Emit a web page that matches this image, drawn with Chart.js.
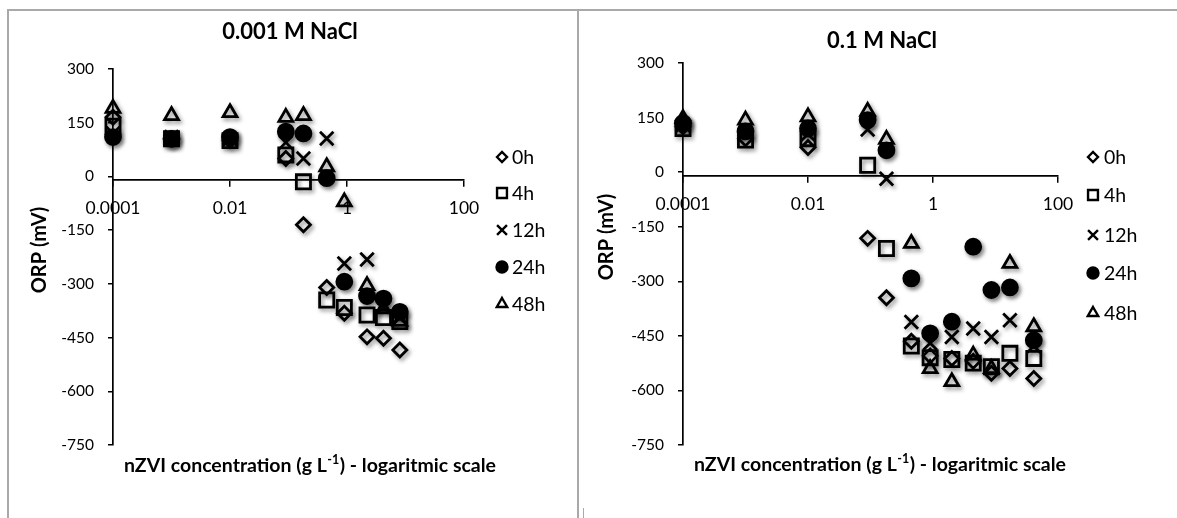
<!DOCTYPE html>
<html><head><meta charset="utf-8">
<script src="https://cdn.jsdelivr.net/npm/chart.js@4.4.1/dist/chart.umd.min.js"></script>
<style>
html,body{margin:0;padding:0;background:#fff;}
#wrap{position:relative;width:1177px;height:518px;overflow:hidden;background:#fff;}
canvas{position:absolute;top:0;}
.ln{position:absolute;background:#a9a9a9;}
</style></head><body>
<div id="wrap">
  <div class="ln" style="left:7px;top:9px;width:1170px;height:2px;"></div>
  <div class="ln" style="left:7px;top:9px;width:2px;height:520px;"></div>
  <div class="ln" style="left:577px;top:9px;width:2px;height:520px;"></div>
  <div class="ln" style="left:583px;top:508px;width:1px;height:10px;"></div>
  <canvas id="c1" width="576" height="518" style="left:0"></canvas>
  <canvas id="c2" width="597" height="518" style="left:580px"></canvas>
</div>
<script>
// ---------- data ----------
const seriesNames = ['0h', '4h', '12h', '24h', '48h'];

// Panel 1: 0.001 M NaCl
const conc1 = [0.0001, 0.001, 0.01, 0.09, 0.18, 0.45, 0.9, 2.2, 4.2, 8];
const orp1_0h  = [165, 105, 100, 50, -135, -310, -382, -448, -452, -485];
const orp1_4h  = [140, 105, 100, 60, -15, -345, -366, -387, -394, -405];
const orp1_12h = [120, 110, 105, 95, 50, 106, -243, -232, -365, -395];
const orp1_24h = [110, 105, 110, 125, 120, -5, -294, -334, -341, -378];
const orp1_48h = [190, 170, 178, 165, 170, 27, -71, -305, -370, -405];

// Panel 2: 0.1 M NaCl
const conc2 = [0.0001, 0.001, 0.01, 0.09, 0.18, 0.45, 0.9, 2.0, 4.4, 8.6, 17, 41];
const orp2_0h  = [125, 92, 68, -182, -345, -465, -505, -512, -520, -553, -540, -567];
const orp2_4h  = [120, 88, 92, 19, -210, -478, -510, -515, -525, -535, -498, -512];
const orp2_12h = [130, 110, 105, 117, -18, -412, -470, -453, -430, -453, -407, -478];
const orp2_24h = [135, 112, 120, 143, 60, -292, -443, -411, -205, -324, -317, -462];
const orp2_48h = [147, 143, 152, 167, 90, -196, -540, -576, -503, -540, -251, -425];

const xTickValues = [0.0001, 0.01, 1, 100];
const xTickLabels = ['0.0001', '0.01', '1', '100'];
const yMin = -750, yMax = 300, yStep = 150;

const panelTitles = ['0.001 M NaCl', '0.1 M NaCl'];
const yTitle = 'ORP (mV)';
const xTitleParts = ['nZVI concentration (g L', '-1', ') - logaritmic scale'];

// ---------- styles ----------
const FONT = 'Lato';
const markerStyles = [
  {pointStyle: 'rectRot', radius: 7, fill: 'rgba(0,0,0,0)', legendRadius: 5},
  {pointStyle: 'rect', radius: 10, fill: 'rgba(0,0,0,0)', legendRadius: 7},
  {pointStyle: 'crossRot', radius: 9.5, fill: 'rgba(0,0,0,0)', legendRadius: 7},
  {pointStyle: 'circle', radius: 7.5, fill: '#000', legendRadius: 5.5},
  {pointStyle: 'triangle', radius: 8, fill: 'rgba(0,0,0,0)', legendRadius: 6}
];

const shadowPlugin = {
  id: 'markerShadow',
  beforeDatasetsDraw(chart) {
    const ctx = chart.ctx;
    ctx.save();
    ctx.shadowColor = 'rgba(0,0,0,0.45)';
    ctx.shadowBlur = 4;
    ctx.shadowOffsetX = 2;
    ctx.shadowOffsetY = 2.5;
  },
  afterDatasetsDraw(chart) { chart.ctx.restore(); }
};

const textPlugin = {
  id: 'panelText',
  afterDraw(chart, args, o) {
    const ctx = chart.ctx;
    ctx.save();
    ctx.fillStyle = '#000';
    ctx.textBaseline = 'middle';
    // title
    ctx.textAlign = 'center';
    ctx.font = 'bold 22px ' + FONT;
    ctx.fillText(o.title, o.titleX, o.titleY);
    // y title
    ctx.save();
    ctx.translate(o.yTitleX, o.yTitleY);
    ctx.rotate(-Math.PI / 2);
    ctx.font = 'bold 20px ' + FONT;
    ctx.fillText(yTitle, 0, 0);
    ctx.restore();
    // x title with superscript
    const mainF = 'bold 19.5px ' + FONT, supF = 'bold 12.5px ' + FONT;
    ctx.textAlign = 'left';
    ctx.textBaseline = 'alphabetic';
    ctx.font = mainF; const w0 = ctx.measureText(xTitleParts[0]).width;
    const w2 = ctx.measureText(xTitleParts[2]).width;
    ctx.font = supF; const w1 = ctx.measureText(xTitleParts[1]).width;
    let x = o.xTitleX - (w0 + w1 + w2 + 1) / 2;
    const base = o.xTitleY + 7;
    ctx.font = mainF; ctx.fillText(xTitleParts[0], x, base); x += w0 + 0.5;
    ctx.font = supF; ctx.fillText(xTitleParts[1], x, base - 8); x += w1 + 0.5;
    ctx.font = mainF; ctx.fillText(xTitleParts[2], x, base);
    // legend
    ctx.textBaseline = 'middle';
    ctx.font = '19.5px ' + FONT;
    markerStyles.forEach((m, i) => {
      const y = o.legendY[i];
      ctx.save();
      ctx.strokeStyle = '#000';
      ctx.fillStyle = m.fill;
      ctx.lineWidth = 2.4;
      Chart.helpers.drawPoint(ctx, {pointStyle: m.pointStyle, radius: m.legendRadius, rotation: 0, borderWidth: 2.4}, o.legendX, y);
      ctx.restore();
      ctx.fillStyle = '#000';
      ctx.fillText(seriesNames[i], o.legendTextX, y + 1);
    });
    ctx.restore();
  }
};

function makeChart(id, xs, seriesList, area, text) {
  const canvas = document.getElementById(id);
  const W = canvas.width, H = canvas.height;
  const yAxisWidth = 70;
  const datasets = seriesList.map((ys, i) => ({
    label: seriesNames[i],
    data: xs.map((x, j) => ({x: x, y: ys[j]})),
    pointStyle: markerStyles[i].pointStyle,
    pointRadius: markerStyles[i].radius,
    pointHoverRadius: markerStyles[i].radius,
    borderColor: '#000',
    backgroundColor: markerStyles[i].fill,
    borderWidth: 2.8,
    pointBorderWidth: 2.8,
    showLine: false,
    clip: false,
    order: seriesList.length - i
  }));
  return new Chart(canvas, {
    type: 'scatter',
    data: {datasets},
    options: {
      responsive: false,
      animation: false,
      devicePixelRatio: 1,
      events: [],
      layout: {padding: {left: area.left - yAxisWidth, right: W - area.right, top: area.top, bottom: H - area.bottom}},
      plugins: {legend: {display: false}, tooltip: {enabled: false}, panelText: text},
      scales: {
        x: {
          type: 'logarithmic',
          min: xTickValues[0], max: xTickValues[xTickValues.length - 1],
          position: {y: -10},
          afterBuildTicks: s => { s.ticks = xTickValues.map(v => ({value: v})); },
          ticks: {
            autoSkip: false, maxRotation: 0, padding: 12, color: '#000',
            font: {family: FONT, size: 17.5},
            callback: v => { const k = xTickValues.indexOf(v); return k >= 0 ? xTickLabels[k] : ''; }
          },
          grid: {drawOnChartArea: false, drawTicks: true, tickLength: 6, color: '#000', lineWidth: 1.5},
          border: {display: true, color: '#000', width: 1.7}
        },
        y: {
          type: 'linear', min: yMin, max: yMax,
          ticks: {stepSize: yStep, padding: 14, color: '#000', font: {family: FONT, size: 15.5}},
          grid: {drawOnChartArea: false, drawTicks: true, tickLength: 5, color: '#000', lineWidth: 1.5},
          border: {display: true, color: '#000', width: 1.7},
          afterFit: s => { s.width = yAxisWidth; }
        }
      }
    },
    plugins: [shadowPlugin, textPlugin]
  });
}

makeChart('c1', conc1, [orp1_0h, orp1_4h, orp1_12h, orp1_24h, orp1_48h],
  {left: 113, right: 464, top: 69, bottom: 445},
  {title: panelTitles[0], titleX: 290, titleY: 32, yTitleX: 40, yTitleY: 250, xTitleX: 310, xTitleY: 465,
   legendX: 502, legendTextX: 512, legendY: [157, 193, 230, 267, 304]});

makeChart('c2', conc2, [orp2_0h, orp2_4h, orp2_12h, orp2_24h, orp2_48h],
  {left: 103, right: 478, top: 63, bottom: 445},
  {title: panelTitles[1], titleX: 302, titleY: 41, yTitleX: 27, yTitleY: 237, xTitleX: 300, xTitleY: 464,
   legendX: 513, legendTextX: 524, legendY: [157, 195, 235, 273, 313]});
</script>
</body></html>
